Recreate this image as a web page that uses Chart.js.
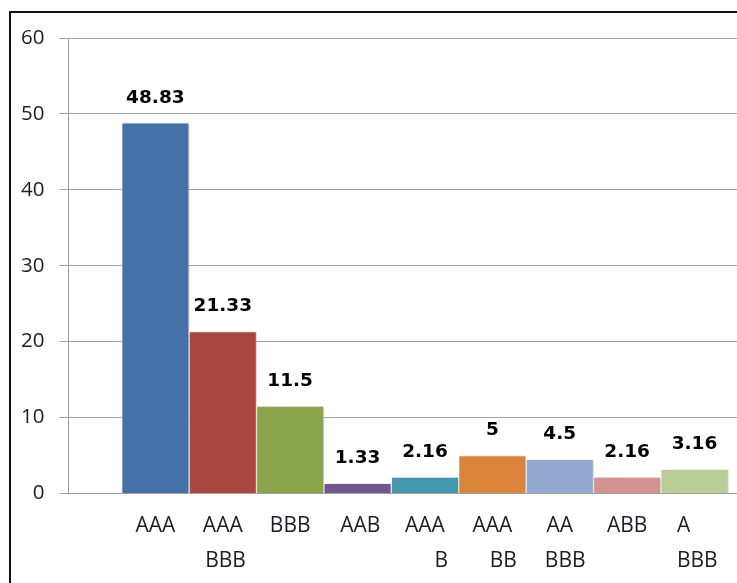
<!DOCTYPE html>
<html>
<head>
<meta charset="utf-8">
<script src="https://cdn.jsdelivr.net/npm/chart.js@4/dist/chart.umd.min.js"></script>
<style>
    html, body { margin: 0; padding: 0; background: #fff; overflow: hidden; }
    #wrap { position: relative; width: 737px; height: 583px; overflow: hidden; }
    #frame {
        position: absolute; left: 9px; top: 11px; width: 740px; height: 600px;
        border-left: 2px solid #111; border-top: 2px solid #111;
    }
    canvas { position: absolute; left: 0; top: 0; }
</style>
</head>
<body>
<div id="wrap">
    <div id="frame"></div>
    <canvas id="ratingChart" width="737" height="598"></canvas>
</div>
<script>
// Rating groups (multi-line labels, spacing kept as in the sheet)
const categories = [
    ['AAA'],
    ['AAA', ' BBB'],
    ['BBB'],
    [' AAB'],
    ['AAA', '      B'],
    ['AAA', '    BB'],
    ['AA', '  BBB'],
    ['ABB'],
    ['A    ', ' BBB']
];
const values = [48.83, 21.33, 11.5, 1.33, 2.16, 5, 4.5, 2.16, 3.16];
const barColors = [
    '#4671A8', '#A9463F', '#8AA54C', '#71568F', '#4398AE',
    '#DB843C', '#94A9D0', '#D29391', '#B9CD96'
];
const yTicks = [0, 10, 20, 30, 40, 50, 60];

const FONT = "'Open Sans', 'DejaVu Sans', sans-serif";

// Soft drop shadow under the bars, then value labels on top
const barDecor = {
    id: 'barDecor',
    beforeDatasetsDraw(chart) {
        const ctx = chart.ctx;
        ctx.save();
        ctx.shadowColor = 'rgba(0,0,0,0.22)';
        ctx.shadowBlur = 4;
        ctx.shadowOffsetX = 2;
        ctx.shadowOffsetY = 1;
    },
    afterDatasetsDraw(chart) {
        const ctx = chart.ctx;
        ctx.restore();
        const meta = chart.getDatasetMeta(0);
        ctx.save();
        ctx.font = "bold 18.5px 'DejaVu Sans', sans-serif";
        ctx.fillStyle = '#000';
        ctx.textAlign = 'center';
        ctx.textBaseline = 'middle';
        meta.data.forEach((bar, i) => {
            ctx.fillText(String(values[i]), bar.x, bar.y - 25);
        });
        ctx.restore();
    }
};

const ctx = document.getElementById('ratingChart');
const chart = new Chart(ctx, {
    type: 'bar',
    data: {
        datasets: [{
            data: values.map((v, i) => ({ x: i, y: v })),
            backgroundColor: barColors,
            borderColor: 'rgba(255,255,255,0.55)',
            borderWidth: 1,
            barPercentage: 1,
            categoryPercentage: 1
        }]
    },
    options: {
        responsive: false,
        animation: false,
        layout: {
            padding: { left: 6, right: 0, top: 38, bottom: 4 }
        },
        plugins: {
            legend: { display: false },
            tooltip: { enabled: false }
        },
        scales: {
            x: {
                type: 'linear',
                offset: false,
                min: -1.29,
                max: 8.63,
                afterBuildTicks: scale => {
                    scale.ticks = categories.map((c, i) => ({ value: i }));
                },
                grid: { display: false, drawTicks: false },
                border: { display: true, color: '#a0a0a0', width: 1 },
                ticks: {
                    autoSkip: false,
                    maxRotation: 0,
                    padding: 15,
                    color: '#1c1c28',
                    font: { family: FONT, size: 21, lineHeight: 1.68 },
                    callback: value => categories[value]
                }
            },
            y: {
                min: 0,
                max: 60,
                afterBuildTicks: scale => {
                    scale.ticks = yTicks.map(v => ({ value: v }));
                },
                grid: { color: '#a4a4a4', lineWidth: 1, tickLength: 9 },
                border: { display: true, color: '#a0a0a0', width: 1 },
                ticks: {
                    padding: 15,
                    color: '#1c1c28',
                    font: { family: FONT, size: 20.5 }
                }
            }
        }
    },
    plugins: [barDecor]
});
</script>
</body>
</html>
